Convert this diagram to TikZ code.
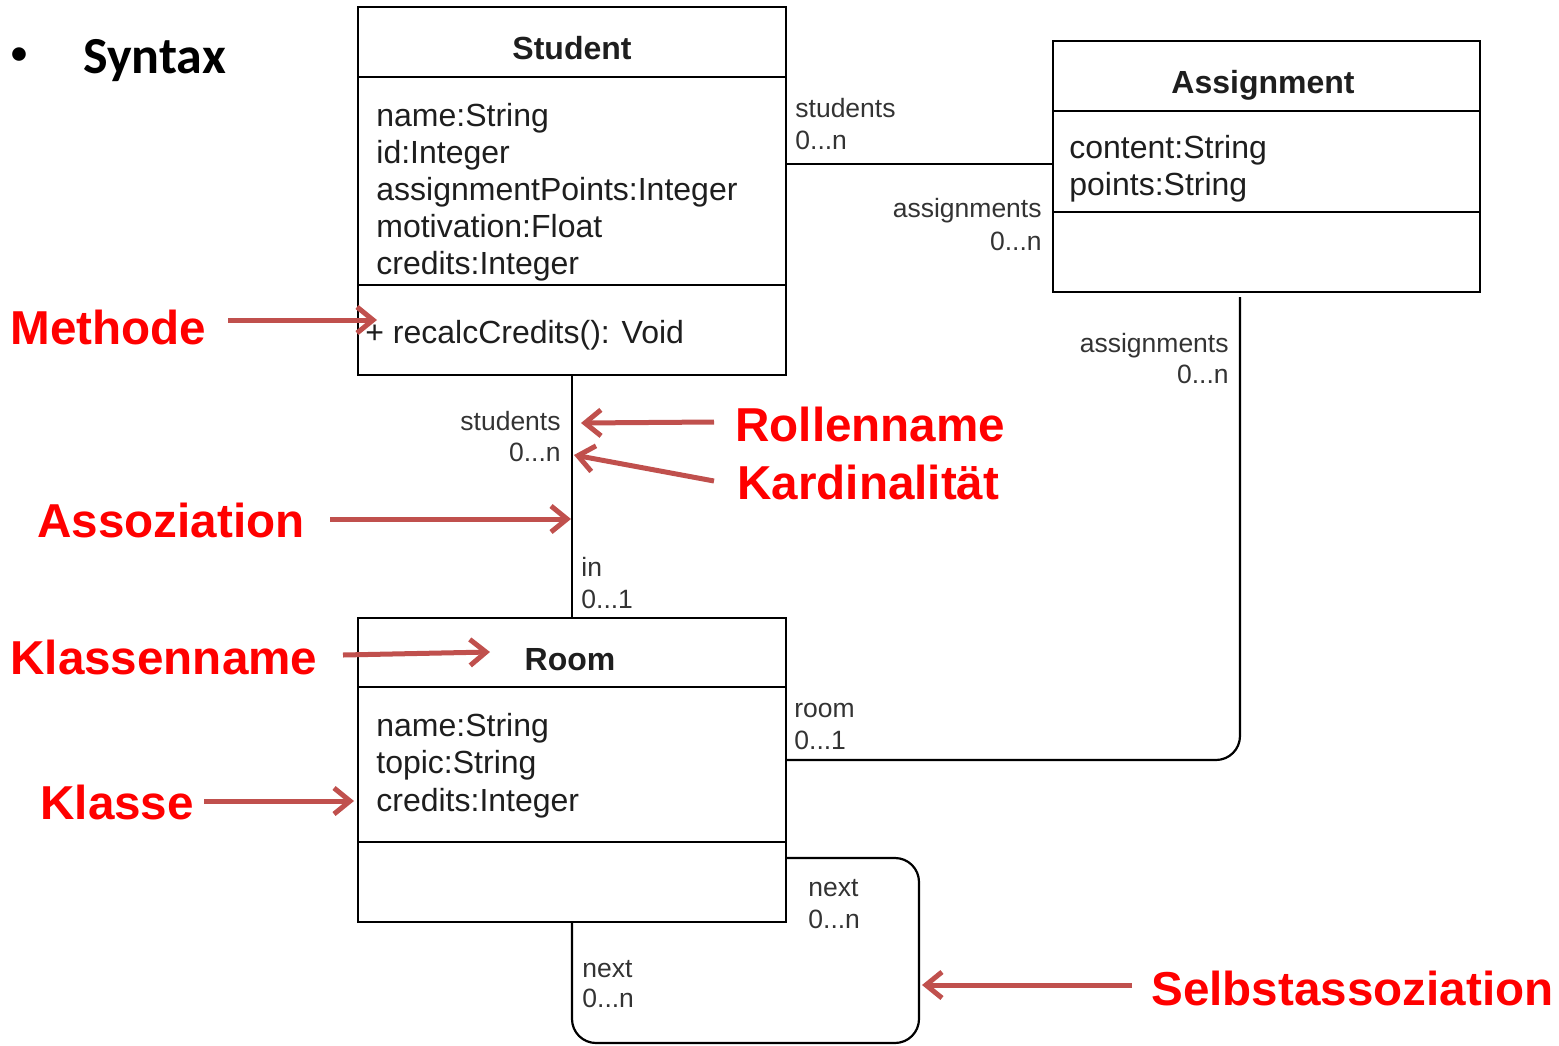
\documentclass[tikz,border=0pt]{standalone}
\usepackage{fontspec}
\setmainfont{Liberation Sans}
\newfontfamily\carlito{Carlito}
\usetikzlibrary{arrows.meta}
\definecolor{annot}{HTML}{C0504D}
\definecolor{umltext}{HTML}{1E1E1E}
\definecolor{lbltext}{HTML}{333333}
\definecolor{annottxt}{HTML}{FF0000}
\begin{document}
\begin{tikzpicture}[x=0.5pt,y=-0.5pt,
 umlbox/.style={draw=black, line width=1.2pt, inner sep=0pt, outer sep=0pt, anchor=north west},
 divider/.style={draw=black, line width=1.2pt},
 attr/.style={font=\fontsize{16}{18}\selectfont, text=umltext, anchor=base west, inner sep=0pt},
 hdr/.style={font=\bfseries\fontsize{16}{18}\selectfont, text=umltext, anchor=base, inner sep=0pt},
 lblw/.style={font=\fontsize{13.25}{15}\selectfont, text=lbltext, anchor=base west, inner sep=0pt},
 lble/.style={font=\fontsize{13.25}{15}\selectfont, text=lbltext, anchor=base east, inner sep=0pt},
 annottext/.style={font=\bfseries\fontsize{23.8}{26}\selectfont, text=annottxt, anchor=base west, inner sep=0pt},
 annotarrow/.style={draw=annot, line width=2.5pt, -{Straight Barb[length=8pt,width=13pt]}},
 assoc/.style={draw=black, line width=1.1pt}
]
\useasboundingbox (0,0) rectangle (1559,1045);

% ---------- Syntax heading
\node[font=\carlito\bfseries\fontsize{16}{18}\selectfont, inner sep=0pt] (bullet) at (19,56) {•};
\node[font=\carlito\bfseries\fontsize{26}{30}\selectfont, anchor=base west, inner sep=0pt] (syntax) at (83,73) {Syntax};

% ---------- Student
\node[umlbox, minimum width=214pt, minimum height=184pt] (student) at (358,7) {};
\draw[divider] ([yshift=-35pt]student.north west) -- ([yshift=-35pt]student.north east);
\draw[divider] ([yshift=-139pt]student.north west) -- ([yshift=-139pt]student.north east);
\node[hdr] (studentname) at (572,59) {Student};
\node[attr] (s1) at (376,126) {name:String};
\node[attr] (s2) at (376,163) {id:Integer};
\node[attr] (s3) at (376,200) {assignmentPoints:Integer};
\node[attr] (s4) at (376,237) {motivation:Float};
\node[attr] (s5) at (376,274) {credits:Integer};
\node[attr] (s6) at (365,343) {+ recalcCredits(): Void};

% ---------- Assignment
\node[umlbox, minimum width=213.5pt, minimum height=125.5pt] (assign) at (1053,41) {};
\draw[divider] ([yshift=-35pt]assign.north west) -- ([yshift=-35pt]assign.north east);
\draw[divider] ([yshift=-85.5pt]assign.north west) -- ([yshift=-85.5pt]assign.north east);
\node[hdr] (assignname) at (1263,93) {Assignment};
\node[attr] (a1) at (1069,158) {content:String};
\node[attr] (a2) at (1069,195) {points:String};

% ---------- Room
\node[umlbox, minimum width=214pt, minimum height=152pt] (room) at (358,618) {};
\draw[divider] ([yshift=-34.5pt]room.north west) -- ([yshift=-34.5pt]room.north east);
\draw[divider] ([yshift=-112pt]room.north west) -- ([yshift=-112pt]room.north east);
\node[hdr] (roomname) at (570,670) {Room};
\node[attr] (r1) at (376,736) {name:String};
\node[attr] (r2) at (376,773) {topic:String};
\node[attr] (r3) at (376,811) {credits:Integer};

% ---------- associations
\draw[assoc] ([yshift=1.25pt]assign.west) -- ([yshift=1.25pt]assign.west -| student.east);
\draw[assoc] (student.south) -- (room.north);
\draw[assoc, rounded corners=12pt] ([yshift=5pt]room.east) -| ([xshift=-13.25pt,yshift=-2.5pt]assign.south);
\coordinate (selfcorner) at (919,1043);
\draw[assoc, rounded corners=12pt] ([yshift=-44pt]room.east) -| (selfcorner) -| (room.south);

% ---------- role names / multiplicities
\node[lblw] (l1) at (795,117) {students};
\node[lblw] (l2) at (795,149) {0...n};
\node[lble] (l3) at (1042,217) {assignments};
\node[lble] (l4) at (1042,250) {0...n};
\node[lble] (l5) at (1229,352) {assignments};
\node[lble] (l6) at (1229,383) {0...n};
\node[lble] (l7) at (561,430) {students};
\node[lble] (l8) at (561,461) {0...n};
\node[lblw] (l9) at (581,576) {in};
\node[lblw] (l10) at (581,608) {0...1};
\node[lblw] (l11) at (794,717) {room};
\node[lblw] (l12) at (794,749) {0...1};
\node[lblw] (l13) at (808,896) {next};
\node[lblw] (l14) at (808,928) {0...n};
\node[lblw] (l15) at (582,977) {next};
\node[lblw] (l16) at (582,1007) {0...n};

% ---------- annotations
\node[annottext] (tmethode) at (10,344) {Methode};
\node[annottext] (trolle) at (735,441) {Rollenname};
\node[annottext] (tkard) at (737,499) {Kardinalität};
\node[annottext] (tasso) at (37,537) {Assoziation};
\node[annottext] (tklname) at (10,674) {Klassenname};
\node[annottext] (tklasse) at (40,819) {Klasse};
\node[annottext] (tselbst) at (1151,1005) {Selbstassoziation};

\coordinate (mT) at (228,320);  \coordinate (mH) at (377,320);
\coordinate (rT) at (714,422);  \coordinate (rH) at (581,423);
\coordinate (kT) at (714,481);  \coordinate (kH) at (574,455);
\coordinate (aT) at (330,519);  \coordinate (aH) at (571,519);
\coordinate (nT) at (343,655);  \coordinate (nH) at (490,652);
\coordinate (cT) at (204,801);  \coordinate (cH) at (354,801);
\coordinate (sT) at (1132,985); \coordinate (sH) at (922,985);

\draw[annotarrow] (mT) -- (mH);
\draw[annotarrow] (rT) -- (rH);
\draw[annotarrow] (kT) -- (kH);
\draw[annotarrow] (aT) -- (aH);
\draw[annotarrow] (nT) -- (nH);
\draw[annotarrow] (cT) -- (cH);
\draw[annotarrow] (sT) -- (sH);
\end{tikzpicture}
\end{document}
